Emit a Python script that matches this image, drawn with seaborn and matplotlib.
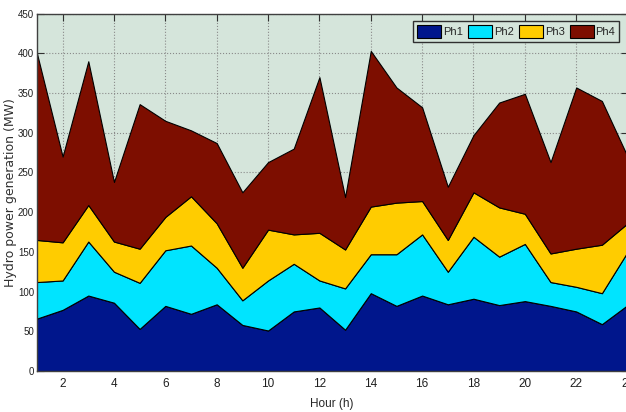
import seaborn as sns
import matplotlib.pyplot as plt
import numpy as np

# hourly generation per plant (MW)
hours = list(range(1, 25))
ph1 = [66, 77, 95, 86, 53, 82, 72, 84, 58, 51, 75, 80, 52, 98, 82, 95, 84, 91, 83, 88, 82, 75, 59, 83]
ph2 = [46, 37, 68, 39, 58, 70, 86, 46, 31, 63, 60, 34, 52, 49, 65, 77, 41, 78, 61, 72, 30, 31, 39, 67]
ph3 = [53, 48, 46, 38, 43, 42, 62, 56, 41, 64, 37, 60, 49, 60, 65, 42, 40, 56, 62, 38, 36, 48, 61, 36]
ph4 = [235, 108, 181, 75, 182, 121, 83, 101, 95, 85, 108, 196, 66, 196, 145, 118, 67, 72, 132, 151, 115, 203, 181, 84]
labels = ['Ph1', 'Ph2', 'Ph3', 'Ph4']
colors = ['#00168c', '#00e4ff', '#ffcc00', '#7d0e00']

sns.set_style('ticks', {'axes.facecolor': '#d5e5db'})
plt.rcParams['font.family'] = ['Liberation Sans Narrow', 'Liberation Sans', 'DejaVu Sans']

fig = plt.figure(figsize=(6.26, 4.12), dpi=100)
ax = fig.add_axes([0.059, 0.0995, 0.9435, 0.8675])

polys = ax.stackplot(hours, ph1, ph2, ph3, ph4, labels=labels, colors=colors,
                     edgecolor='black', linewidth=0.8)

ax.set_xlim(1, 24)
ax.set_ylim(0, 450)
ax.set_xticks(range(2, 25, 2))
ax.set_yticks(range(0, 451, 50))
ax.set_axisbelow(True)
ax.grid(True, linestyle=':', color='#8a8a8a', linewidth=0.8)
ax.tick_params(direction='in', length=5, top=True, right=True,
               color='#303030', labelcolor='#202020')
ax.tick_params(axis='x', pad=5, labelsize=8.5)
ax.tick_params(axis='y', pad=2, labelsize=7)
for s in ax.spines.values():
    s.set_color('#404040')
    s.set_linewidth(1.0)

ax.set_xlabel('Hour (h)', fontsize=8.5, labelpad=6)
ax.set_ylabel('Hydro power generation (MW)', fontsize=9,
              family=['DejaVu Sans'], color='#303030')
ax.yaxis.set_label_coords(-0.034, 0.5)

leg = ax.legend(loc='upper right', bbox_to_anchor=(0.985, 0.978), ncol=4,
                fontsize=8, frameon=True, fancybox=False, handlelength=2.2,
                handleheight=1.5, columnspacing=0.45, handletextpad=0.15,
                borderpad=0.3, borderaxespad=0)
leg.get_frame().set_edgecolor('#303030')
leg.get_frame().set_facecolor('#d5e5db')
leg.get_frame().set_alpha(1)

fig.savefig('out.png', dpi=100)
